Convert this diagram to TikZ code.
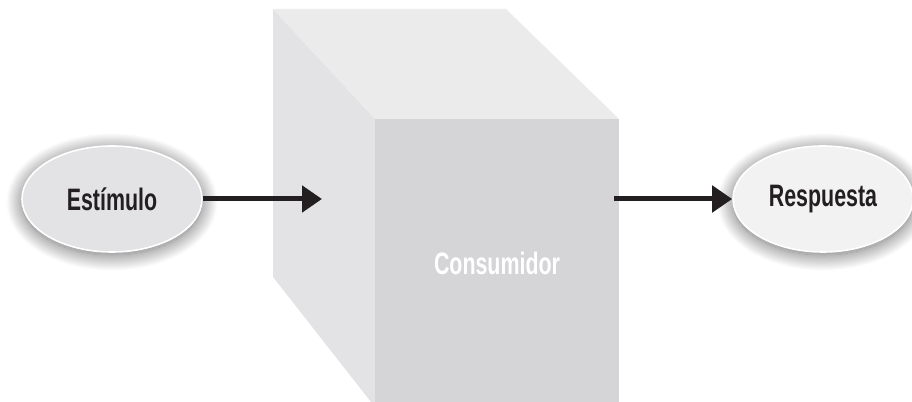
\documentclass[tikz,border=0pt]{standalone}
\usepackage{fontspec}
\setmainfont[FakeStretch=0.69]{Liberation Sans}
\usetikzlibrary{arrows.meta,shadows.blur,shapes.geometric}
\definecolor{frontc}{HTML}{D5D5D8}
\definecolor{leftc}{HTML}{E3E3E5}
\definecolor{topc}{HTML}{EBEBEB}
\definecolor{ellA}{HTML}{E3E3E6}
\definecolor{ellB}{HTML}{F2F2F2}
\definecolor{ink}{HTML}{231F20}
\begin{document}
\begin{tikzpicture}[x=0.5pt,y=0.5pt,
  lbl/.style={font=\fontsize{15.5}{17}\selectfont\bfseries},
  bubble/.style={ellipse, draw=white, line width=0.8pt, minimum width=90pt, minimum height=53pt,
    inner sep=0pt, lbl, text=ink,
    blur shadow={shadow xshift=0pt, shadow yshift=-1.5pt, shadow blur radius=8pt,
      shadow blur steps=30, shadow opacity=60}},
  flow/.style={line width=2.5pt, draw=ink, -{Triangle[length=10pt,width=13pt]}}]
\useasboundingbox (0,0) rectangle (912,402);
% cube faces
\fill[leftc] (273,393) -- (375,283) -- (375,0) -- (371,0) -- (273,125) -- cycle;
\fill[topc] (273,393) -- (506,393) -- (619,283) -- (375,283) -- cycle;
\fill[frontc] (375,0) rectangle (619,283);
\node[text=white, lbl] (cons) at (497,139) {Consumidor};
% nodes
\node[bubble, fill=ellA] (est) at (112,203) {Estímulo};
\node[bubble, fill=ellB] (resp) at (823,203) {Respuesta};
\coordinate (inTip) at (322,203);
\coordinate (outStart) at (614,203);
\draw[flow] (est.east) -- (inTip);
\draw[flow] (outStart) -- (resp.west);
\end{tikzpicture}
\end{document}
